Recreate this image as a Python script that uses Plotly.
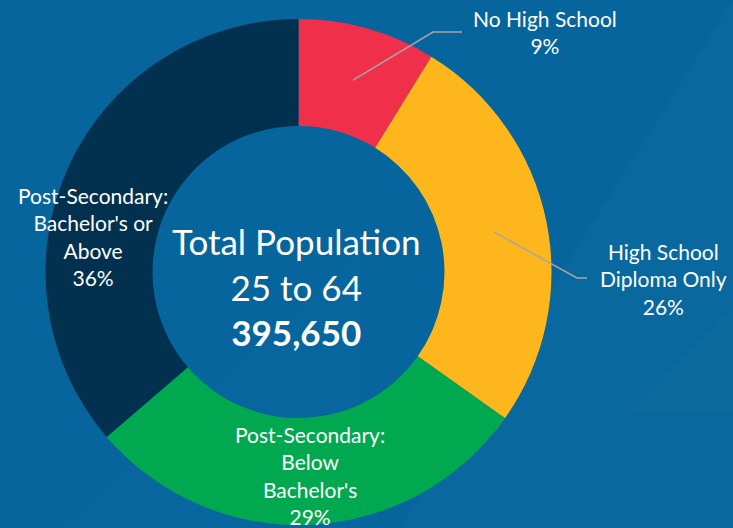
import math
import plotly.graph_objects as go

# ---- data ----
categories = ["No High School", "High School Diploma Only",
              "Post-Secondary: Below Bachelor's", "Post-Secondary: Bachelor's or Above"]
label_lines = [["No High School"], ["High School", "Diploma Only"],
               ["Post-Secondary:", "Below", "Bachelor's"],
               ["Post-Secondary:", "Bachelor's or", "Above"]]
shares = [8.8, 26.0, 28.9, 36.3]
colors = ["#f0304a", "#fdb71c", "#00a94f", "#02314f"]
center_lines = ["Total Population", "25 to 64", "<b>395,650</b>"]

W, H = 733, 528
BG = "#05659c"
FONT = "Lato"

# layout geometry (pixels)
cx, cy, R = 298.5, 272.0, 253.0
hole = 0.577

def px(x):
    return x / W

def py(y):
    return 1 - y / H

fig = go.Figure()
fig.add_trace(go.Pie(
    labels=categories, values=shares, sort=False, direction="clockwise",
    rotation=0, hole=hole, textinfo="none", hoverinfo="label+percent",
    marker=dict(colors=colors, line=dict(width=0)),
    domain=dict(x=[px(cx - R), px(cx + R)], y=[py(cy + R), py(cy - R)]),
    showlegend=False,
))

# label positions (pixel centres) and optional leader-line elbows
label_pos = [(545, 32), (663, 279), (310, 475.5), (93, 236.5)]
elbows = [[(433, 32), (462, 32)], [(577, 278), (587, 278)], None, None]

total = sum(shares)
cum = 0.0
r_mid = R * (1 + hole) / 2
annotations = []
shapes = []
for i, v in enumerate(shares):
    mid = (cum + v / 2) / total * 2 * math.pi
    cum += v
    pct = f"{round(v / total * 100)}%"
    text = "<br>".join(label_lines[i] + [pct])
    lx, ly = label_pos[i]
    annotations.append(dict(text=text, x=px(lx), y=py(ly), xref="paper", yref="paper",
                            showarrow=False, xanchor="center", yanchor="middle",
                            font=dict(family=FONT, size=21, color="white")))
    if elbows[i]:
        sx = cx + r_mid * math.sin(mid)
        sy = cy - r_mid * math.cos(mid)
        pts = [(sx, sy)] + elbows[i]
        path = "M " + " L ".join(f"{px(a):.5f},{py(b):.5f}" for a, b in pts)
        shapes.append(dict(type="path", path=path, xref="paper", yref="paper",
                           line=dict(color="#a6a6a6", width=1.5)))

annotations.append(dict(text="<br>".join(center_lines), x=px(296), y=py(286),
                        xref="paper", yref="paper", showarrow=False,
                        xanchor="center", yanchor="middle",
                        font=dict(family=FONT, size=35, color="white")))

# subtle background facets
bg_shapes = [
    dict(type="path", path=f"M {px(733)},{py(0)} L {px(400)},{py(528)} L {px(733)},{py(528)} Z",
         fillcolor="rgba(255,255,255,0.02)", line=dict(width=0), layer="below",
         xref="paper", yref="paper"),
    dict(type="path", path=f"M {px(628)},{py(413)} L {px(733)},{py(307)} L {px(733)},{py(413)} Z",
         fillcolor="rgba(255,255,255,0.015)", line=dict(width=0), layer="below",
         xref="paper", yref="paper"),
    dict(type="path", path=f"M {px(60)},{py(528)} L {px(360)},{py(250)} L {px(360)},{py(528)} Z",
         fillcolor="rgba(255,255,255,0.012)", line=dict(width=0), layer="below",
         xref="paper", yref="paper"),
]

fig.update_layout(
    width=W, height=H, margin=dict(l=0, r=0, t=0, b=0),
    paper_bgcolor=BG, plot_bgcolor=BG,
    annotations=annotations, shapes=bg_shapes + shapes,
    font=dict(family=FONT, color="white"),
)

fig.write_html("out.html", config={"displayModeBar": False},
               post_script="document.body.style.margin='0';document.body.style.padding='0';"
                           "document.body.style.background='" + BG + "';")
